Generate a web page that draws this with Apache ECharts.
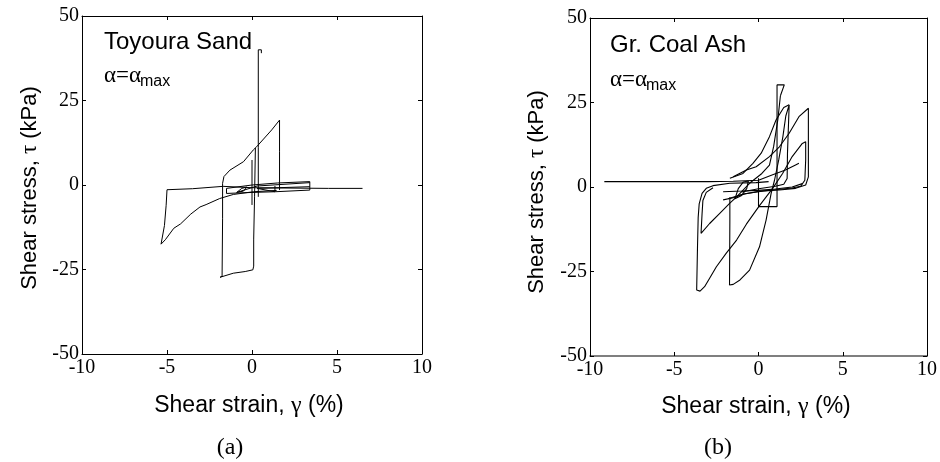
<!DOCTYPE html>
<html>
<head>
<meta charset="utf-8">
<script src="https://cdn.jsdelivr.net/npm/echarts@6/dist/echarts.min.js"></script>
<style>
  html, body { margin: 0; padding: 0; background: #fff; }
  #main { width: 940px; height: 462px; }
</style>
</head>
<body>
<div id="main"></div>
<script>
// axis ticks
var xTicks = [-10, -5, 0, 5, 10]
var yTicks = [-50, -25, 0, 25, 50]

// (a) Toyoura Sand, [strain %, stress kPa]
var sandLong = [[-5.0, -1.4], [-3.5, -1.1], [-1.7, -0.4], [0, -0.8], [2, -0.9], [4.5, -1.0], [6.5, -1.0]]
var sandLoopA = [[-5.0, -1.4], [-5.05, -6], [-5.15, -12], [-5.35, -17.5], [-5.1, -16.2], [-4.6, -12.8], [-4.2, -11.5],
  [-3.6, -8.6], [-3.06, -6.5], [-2.7, -5.8], [-1.9, -4.0], [-1.1, -2.8], [0.08, -2.0], [1.45, -1.6]]
var sandUpperB = [[-1.73, -0.5], [-1.73, 0.5], [-1.65, 2.5], [-1.3, 4.4], [-0.5, 6.9], [0.08, 10.4], [0.27, 11.3],
  [1.16, 16.3], [1.62, 19.2], [1.62, 10], [1.62, -1.5]]
var sandLowerB = [[-1.73, -0.5], [-1.73, -10], [-1.76, -27.0], [-1.88, -27.3], [-1.1, -26.1], [-0.4, -25.6],
  [0.05, -25.1], [0.1, -24], [0.1, -16], [0.15, -15.5], [0.15, -3.5], [0.2, 11.0]]
var sandCross = [[0, -5.9], [0, 7.4]]
var sandSpike = [[0.37, -3.5], [0.37, 11], [0.37, 40], [0.55, 40], [0.55, 39]]
var sandBand = [[-1.5, -2.5], [0, -2.2], [1.35, -2.0], [3.4, -1.5], [3.4, 1.0], [1.5, 0.6], [0, 0], [-1.5, -1.0], [-1.5, -2.5]]
var sandInner = [[-0.9, -2.2], [-0.6, -1.0], [-0.3, -0.6], [-0.5, -1.8], [-0.9, -2.2], [0.3, -0.3], [3.4, 0.7]]
var sandInner2 = [[1.35, -0.3], [1.35, -2.0], [0.3, -1.0], [3.4, -0.5]]

// (b) Gr. Coal Ash
var ashFlat = [[-9.15, 1.6], [-6, 1.6], [-3, 1.6], [-1.5, 1.7], [0, 2.0], [0.84, 3.6], [1.6, 5.0], [2.2, 6.5], [2.4, 7.0]]
var ashBox = [[0, 2.6], [0, -5.8], [1.1, -5.8], [1.1, 30.2], [1.53, 30.2], [1.3, 27.0]]
var ashOuter = [[0.6, 1.6], [-0.14, 1.3], [-1.7, 1.1], [-2.7, 0.4], [-3.1, -0.4], [-3.35, -1.9], [-3.52, -5],
  [-3.58, -9], [-3.62, -17.7], [-3.67, -30.5], [-3.47, -30.8], [-3.2, -29.5], [-2.9, -27.0], [-2.5, -23.6], [-1.9, -19.5],
  [-1.3, -15.7], [-0.72, -11.0], [0.06, -5.5], [0.84, -0.4], [1.43, 4.0], [2.0, 9.0], [2.6, 12.9], [2.8, 13.4],
  [2.8, 8], [2.75, 2], [2.5, 0.2], [2.0, -0.3], [1.0, -0.8], [0, -1.3], [-1.0, -2.2], [-1.8, -3.5]]
var ashInner = [[-2.7, -0.2], [-3.1, -1.6], [-3.3, -4], [-3.35, -8], [-3.41, -13.7], [-2.9, -10.8], [-2.3, -7.8],
  [-1.7, -4.8], [-1.3, -2.9], [-0.53, 1.1], [0.2, 4.0], [0.65, 6.5], [0.9, 12], [1.15, 20], [1.3, 27.0]]
var ashSecond = [[-1.7, -3.0], [-1.7, -10], [-1.72, -29.0], [-1.5, -28.8], [-1.1, -27.5], [-0.53, -24.6],
  [0.06, -17.7], [0.45, -9.8], [0.75, -1.9], [0.95, 2], [1.2, 8], [1.45, 15], [1.62, 21], [1.82, 24.3],
  [1.72, 24], [1.72, 10], [1.7, 2.5], [1.5, 0.8], [1.0, 0.2], [0, -0.5], [-1.0, -1.5]]
var ashUpper1 = [[-1.7, 2.6], [-0.92, 4], [-0.33, 7], [0.16, 10], [0.65, 14.9], [1.04, 19.8], [1.5, 23.5], [1.82, 24.3]]
var ashUpper2 = [[-1.5, 3.0], [-0.72, 5], [-0.14, 6], [0.65, 9], [1.24, 11.9], [1.82, 15.9], [2.4, 20.8], [2.96, 23.3],
  [2.96, 15], [2.96, 3], [2.8, 0.6], [2.2, -0.4], [1.24, -0.9], [0.3, -1.2], [-0.8, -2.0], [-1.5, -3.2], [-2.1, -3.8]]
var ashSmall = [[-1.4, -3.5], [-1.2, -0.5], [-0.9, 1.5], [-0.6, 1.8], [-0.7, -0.5], [-1.0, -2.5], [-1.4, -3.5]]
var ashLow = [[-2.1, -1.4], [-1.0, -1.2], [0, -1.0], [1.0, -0.6], [2.0, 0.0], [2.6, 1.0]]

var sandSeries = [sandLong, sandLoopA, sandUpperB, sandLowerB, sandCross, sandSpike, sandBand, sandInner, sandInner2]
var ashSeries = [ashFlat, ashBox, ashOuter, ashInner, ashSecond, ashUpper1, ashUpper2, ashSmall, ashLow]

var serif = 'Liberation Serif'
var sans = 'Liberation Sans'

function xAx (grid, pos, labels, lineColor, lineWidth) {
  return {
    type: 'value', gridIndex: grid, position: pos,
    min: xTicks[0], max: xTicks[xTicks.length - 1], interval: 5,
    axisLine: { show: true, onZero: false, lineStyle: { color: lineColor || '#000', width: lineWidth || 1 } },
    axisTick: { show: true, inside: true, length: 4, lineStyle: { color: '#000' } },
    axisLabel: { show: labels, color: '#000', fontFamily: serif, fontSize: 20, margin: 4 },
    splitLine: { show: false }
  }
}
function yAx (grid, pos, labels) {
  return {
    type: 'value', gridIndex: grid, position: pos,
    min: yTicks[0], max: yTicks[yTicks.length - 1], interval: 25,
    axisLine: { show: true, onZero: false, lineStyle: { color: '#000', width: 1 } },
    axisTick: { show: true, inside: true, length: 4, lineStyle: { color: '#000' } },
    axisLabel: { show: labels, color: '#000', fontFamily: serif, fontSize: 20, margin: 3 },
    splitLine: { show: false }
  }
}

var series = []
sandSeries.forEach(function (d) {
  series.push({ type: 'line', xAxisIndex: 0, yAxisIndex: 0, data: d, showSymbol: false, symbol: 'none',
    lineStyle: { color: '#000', width: 1 }, silent: true })
})
ashSeries.forEach(function (d) {
  series.push({ type: 'line', xAxisIndex: 2, yAxisIndex: 2, data: d, showSymbol: false, symbol: 'none',
    lineStyle: { color: '#000', width: 1.1 }, silent: true })
})

function label (x, y, text, font, rot) {
  return { type: 'text', x: x, y: y, rotation: rot || 0,
    style: { text: text, font: font, fill: '#000', align: 'center', verticalAlign: 'middle' } }
}
function rich (x, y, a, b, c, size, rot) {
  return { type: 'text', x: x, y: y, rotation: rot || 0,
    style: { text: '{s|' + a + '}{g|' + b + '}{s|' + c + '}', align: 'center', verticalAlign: 'middle',
      rich: { s: { fontFamily: sans, fontSize: size, fill: '#000' }, g: { fontFamily: serif, fontSize: size + 1, fill: '#000' } } } }
}
function leftText (x, y, text, font) {
  return { type: 'text', x: x, y: y, style: { text: text, font: font, fill: '#000', align: 'left', verticalAlign: 'middle' } }
}

var chart = echarts.init(document.getElementById('main'))
chart.setOption({
  animation: false,
  backgroundColor: '#fff',
  grid: [
    { left: 82, top: 16, width: 340, height: 338 },
    { left: 590, top: 18, width: 339, height: 338 }
  ],
  xAxis: [xAx(0, 'bottom', true), xAx(0, 'top', false), xAx(1, 'bottom', true, '#555', 1.6), xAx(1, 'top', false)],
  yAxis: [yAx(0, 'left', true), yAx(0, 'right', false), yAx(1, 'left', true), yAx(1, 'right', false)],
  series: series,
  graphic: [
    rich(249, 406, 'Shear strain, ', 'γ', ' (%)', 23),
    rich(756, 407, 'Shear strain, ', 'γ', ' (%)', 23),
    rich(30, 188, 'Shear stress, ', 'τ', ' (kPa)', 22, Math.PI / 2),
    rich(537, 192, 'Shear stress, ', 'τ', ' (kPa)', 22, Math.PI / 2),
    label(230, 448, '(a)', '24px ' + serif),
    label(718, 448, '(b)', '24px ' + serif),
    leftText(104, 42, 'Toyoura Sand', '24px ' + sans),
    leftText(104, 76, 'α=α', '23px ' + serif),
    leftText(140, 82, 'max', '16px ' + sans),
    leftText(610, 45, 'Gr. Coal Ash', '24px ' + sans),
    leftText(610, 80, 'α=α', '23px ' + serif),
    leftText(646, 86, 'max', '16px ' + sans)
  ]
})
</script>
</body>
</html>
